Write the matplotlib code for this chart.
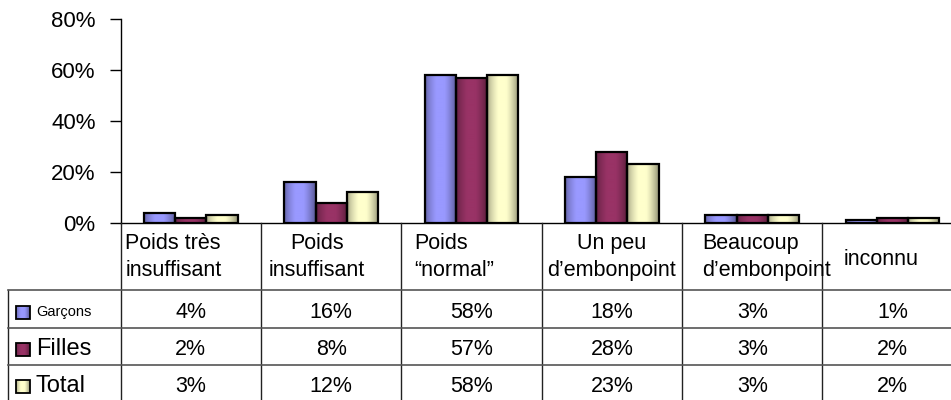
import numpy as np
import matplotlib
matplotlib.use('Agg')
import matplotlib.pyplot as plt
from matplotlib.patches import Rectangle
from matplotlib.lines import Line2D

plt.rcParams['font.family'] = ['Liberation Sans', 'DejaVu Sans']

categories = ['Poids très\ninsuffisant', 'Poids\ninsuffisant', 'Poids\n“normal”',
              'Un peu\nd’embonpoint', 'Beaucoup\nd’embonpoint', 'inconnu']
series = ['Garçons', 'Filles', 'Total']
garcons = [4, 16, 58, 18, 3, 1]
filles = [2, 8, 57, 28, 3, 2]
total = [3, 12, 58, 23, 3, 2]
yticks = [0, 20, 40, 60, 80]

colors = ['#9999FF', '#993366', '#FFFFCC']
W, H = 951, 400


def fy(p):
    # pixel from top -> figure fraction
    return (H - p) / H


def fx(p):
    return p / W


def shade(t):
    # darker at the edges, bright in the middle (Excel style bar)
    f = np.ones_like(t)
    left = t < 0.35
    f[left] = 0.55 + 0.45 * np.sqrt(t[left] / 0.35)
    right = t > 0.6
    f[right] = 1 - 0.42 * ((t[right] - 0.6) / 0.4) ** 1.3
    return f


def gradient(color):
    rgb = np.array(matplotlib.colors.to_rgb(color))
    t = np.linspace(0, 1, 64)
    return np.clip(shade(t)[None, :, None] * rgb[None, None, :], 0, 1)


fig = plt.figure(figsize=(W / 100, H / 100), dpi=100)
ax = fig.add_axes([fx(120.7), fy(223), fx(842), (223 - 19) / H])

x = np.arange(len(categories))
bw = 0.222
for k, (vals, c) in enumerate(zip([garcons, filles, total], colors)):
    pos = x + (k - 1) * bw
    bars = ax.bar(pos, np.array(vals) / 100, bw, facecolor='none',
                  edgecolor='black', linewidth=1.6, zorder=3)
    for b in bars:
        x0, y0 = b.get_x(), b.get_y()
        im = ax.imshow(gradient(c), extent=[x0, x0 + b.get_width(), y0, y0 + b.get_height()],
                       aspect='auto', interpolation='bilinear', zorder=2)
        im.set_clip_path(b)

ax.set_xlim(-0.5, len(categories) - 0.5)
ax.set_ylim(0, 0.8)
ax.set_yticks([v / 100 for v in yticks])
ax.set_yticklabels([f'{v}%' for v in yticks], fontsize=16)
ax.tick_params(axis='y', direction='out', length=8, width=1, pad=10)
ax.set_xticks([])
for s in ['top', 'right']:
    ax.spines[s].set_visible(False)
ax.spines['left'].set_linewidth(1)
ax.spines['bottom'].set_linewidth(1)

# table below the chart
fig.canvas.draw()
edges = [ax.transData.transform((i - 0.5, 0))[0] for i in range(len(categories) + 1)]
right = edges[-1]
lc = '#222222'
for e in edges[:-1]:
    fig.add_artist(Line2D([fx(e), fx(e)], [fy(223), fy(400)], color=lc, lw=1))
fig.add_artist(Line2D([fx(8), fx(8)], [fy(290), fy(400)], color=lc, lw=1))
for p in [290, 328, 365]:
    fig.add_artist(Line2D([fx(8), fx(right)], [fy(p), fy(p)], color='#555555', lw=1.2))

# header labels: (alignment, pixel offset from column left)
hdr_style = [('left', 4.5), ('center', 56), ('left', 13),
             ('center', 70), ('left', 20), ('center', 59)]
for i, lab in enumerate(categories):
    ha, off = hdr_style[i]
    lines = lab.split('\n')
    bases = [249, 276] if len(lines) == 2 else [265]
    for ln, b in zip(lines, bases):
        fig.text(fx(edges[i] + off), fy(b), ln, ha=ha, va='baseline', fontsize=15.5)

# rows
row_base = [318, 355, 392]
row_font = [10.5, 17, 17]
for r, (name, vals, c) in enumerate(zip(series, [garcons, filles, total], colors)):
    b = row_base[r]
    sw = Rectangle((fx(16), fy(b + 1)), fx(14), 13 / H, transform=fig.transFigure,
                   facecolor='none', edgecolor='black', lw=1.3, zorder=3)
    fig.add_artist(sw)
    sax = fig.add_axes([fx(16), fy(b + 1), fx(14), 13 / H])
    sax.imshow(gradient(c), aspect='auto', interpolation='bilinear')
    sax.axis('off')
    fig.text(fx(36), fy(b - 2 if r == 0 else b), name, ha='left', va='baseline',
             fontsize=row_font[r])
    for i, v in enumerate(vals):
        fig.text(fx((edges[i] + edges[i + 1]) / 2), fy(b), f'{v}%',
                 ha='center', va='baseline', fontsize=15.5)

fig.savefig('out.png', dpi=100)
